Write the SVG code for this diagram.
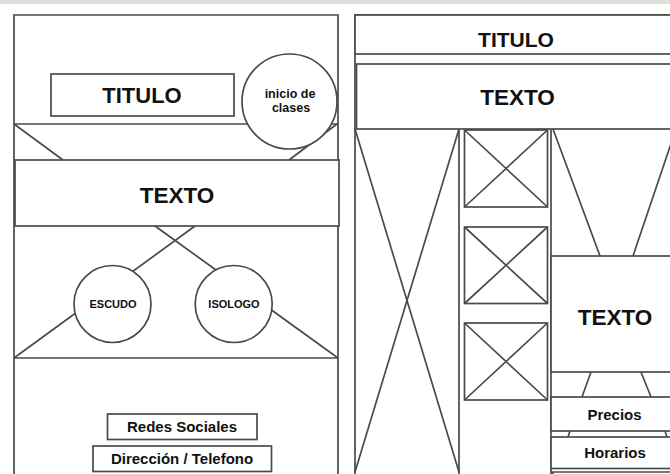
<svg xmlns="http://www.w3.org/2000/svg" width="670" height="474" viewBox="0 0 670 474">
<style>
.s{fill:none;stroke:#4a4a4a;stroke-width:1.7}
.b{fill:#fff;stroke:#4a4a4a;stroke-width:1.7}
.t{font-family:"Liberation Sans",Arial,sans-serif;font-weight:bold;fill:#111;text-anchor:middle}
</style>
<rect x="0" y="0" width="670" height="474" fill="#fff"/>
<rect x="0" y="0" width="670" height="4" fill="#dde1d7"/>
<g id="frames">
<path class="s" d="M14,474V15H338V474"/>
<path class="s" d="M355,474V15H672"/>
</g>
<g id="connectors">
<path class="s" d="M14,124H338"/>
<path class="s" d="M14,124L63,160M337,124L289,160"/>
<path class="s" d="M195,226L14,358M155,226L338,358"/>
<path class="s" d="M14,358H338"/>
<path class="s" d="M355,129L459,472M459,129L355,472"/>
<path class="s" d="M459,129V474M551,129V474"/>
<path class="s" d="M553,129L600,256M676,129L633,256"/>
<path class="s" d="M591,372L582,397M641,372L651,397"/>
<path class="s" d="M570,431L568,437M665,431L667,437"/>
<path class="s" d="M551,472H672M553,472V474"/>
</g>
<g id="titulo-left"><rect class="b" x="51" y="74" width="183" height="42"/><text class="t" x="142" y="103" font-size="22">TITULO</text></g>
<g id="inicio"><circle class="b" cx="289.5" cy="101.5" r="47.5"/><text class="t" x="290" y="97.5" font-size="12.5">inicio de</text><text class="t" x="291" y="112" font-size="12.5">clases</text></g>
<g id="texto-left"><rect class="b" x="15" y="160" width="324" height="66"/><text class="t" x="177" y="202.5" font-size="22.5">TEXTO</text></g>
<g id="escudo"><circle class="b" cx="112.5" cy="304" r="38.5"/><text class="t" x="113" y="308" font-size="11">ESCUDO</text></g>
<g id="isologo"><circle class="b" cx="233.7" cy="304" r="38.5"/><text class="t" x="234" y="308" font-size="11">ISOLOGO</text></g>
<g id="redes"><rect class="b" x="107.5" y="414" width="149.5" height="25.5"/><text class="t" x="182" y="432" font-size="15">Redes Sociales</text></g>
<g id="direccion"><rect class="b" x="93" y="446" width="178.5" height="25.5"/><text class="t" x="182" y="464" font-size="15">Dirección / Telefono</text></g>
<g id="titulo-right"><rect class="b" x="355" y="15" width="317" height="39"/><text class="t" x="516" y="46.7" font-size="21">TITULO</text></g>
<g id="texto-right-top"><rect class="b" x="356.5" y="64" width="316" height="65"/><text class="t" x="517.5" y="105" font-size="22.5">TEXTO</text></g>
<g id="img1"><rect class="b" x="464.5" y="130" width="83" height="77"/><path class="s" d="M464.5,130L547.5,207M547.5,130L464.5,207"/></g>
<g id="img2"><rect class="b" x="464.5" y="227" width="83" height="76.5"/><path class="s" d="M464.5,227L547.5,303.5M547.5,227L464.5,303.5"/></g>
<g id="img3"><rect class="b" x="464.5" y="323" width="83" height="77"/><path class="s" d="M464.5,323L547.5,400M547.5,323L464.5,400"/></g>
<g id="texto-right"><rect class="b" x="551" y="256" width="130" height="116"/><text class="t" x="615" y="324.5" font-size="22.5">TEXTO</text></g>
<g id="precios"><rect class="b" x="551" y="397" width="130" height="34"/><text class="t" x="614.5" y="419.5" font-size="15">Precios</text></g>
<g id="horarios"><rect class="b" x="551" y="437" width="130" height="31.5"/><text class="t" x="615" y="457.5" font-size="15">Horarios</text></g>
</svg>
